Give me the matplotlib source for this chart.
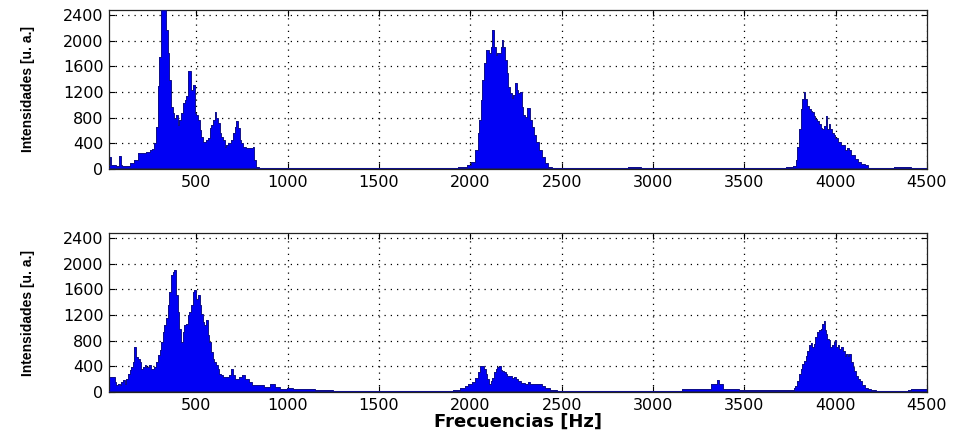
import matplotlib
matplotlib.use("Agg")
import matplotlib.pyplot as plt

# ---------------- data ----------------
top_freq = [20, 30, 37, 50, 70, 82, 90, 100, 120, 150, 170, 192, 210, 238, 250, 265, 275, 284, 293, 302,
            311, 320, 330, 339, 348, 357, 366, 376, 385, 394, 403, 412, 421, 431, 440, 449, 458, 467, 473, 486,
            495, 504, 513, 522, 531, 541, 550, 559, 568, 577, 586, 595, 605, 614, 623, 632, 641, 650, 660, 669,
            678, 687, 696, 705, 715, 724, 733, 742, 751, 760, 779, 806, 815, 820, 834, 852, 900, 1000, 1500, 1900,
            1960, 2000, 2005, 2016, 2035, 2044, 2053, 2062, 2071, 2080, 2089, 2098, 2107, 2116, 2126, 2135, 2144, 2153, 2162, 2171,
            2177, 2186, 2195, 2204, 2213, 2222, 2231, 2240, 2248, 2259, 2268, 2277, 2286, 2295, 2304, 2313, 2322, 2332, 2341, 2353,
            2366, 2381, 2399, 2417, 2435, 2460, 2850, 2880, 2920, 2950, 2980, 3700, 3757, 3776, 3785, 3794, 3803, 3812, 3821, 3830,
            3839, 3849, 3858, 3867, 3876, 3885, 3894, 3903, 3912, 3922, 3931, 3940, 3949, 3958, 3967, 3976, 3985, 3994, 4004, 4022,
            4040, 4058, 4067, 4077, 4095, 4113, 4131, 4149, 4168, 4186, 4200, 4310, 4330, 4360, 4400, 4420, 4500]
top_vals = [60, 190, 60, 60, 50, 200, 60, 40, 50, 90, 140, 245, 250, 260, 300, 310, 400, 660, 1285, 1750,
            2480, 2480, 2480, 2170, 1800, 1390, 970, 870, 790, 840, 690, 760, 870, 1020, 1080, 1130, 1520, 1520, 1230, 1310,
            870, 840, 760, 610, 500, 425, 425, 450, 480, 635, 690, 760, 895, 790, 710, 555, 500, 450, 350, 375,
            400, 400, 450, 555, 660, 740, 635, 450, 400, 350, 320, 320, 350, 140, 35, 20, 15, 8, 5, 15,
            35, 60, 115, 115, 300, 555, 765, 1075, 1385, 1645, 1850, 1850, 1800, 1905, 2165, 1905, 1775, 1800, 1800, 1905,
            2010, 1905, 1700, 1490, 1280, 1180, 1100, 1150, 1335, 1230, 1180, 1205, 970, 840, 815, 945, 945, 765, 660, 530,
            425, 295, 190, 90, 35, 10, 5, 25, 30, 20, 5, 5, 25, 50, 135, 345, 615, 935, 1095, 1200,
            1095, 985, 935, 905, 880, 825, 775, 745, 695, 640, 615, 665, 825, 615, 695, 615, 560, 535, 480, 425,
            375, 295, 320, 295, 215, 160, 105, 80, 55, 15, 5, 5, 30, 35, 25, 5, 5]

bot_freq = [30, 39, 48, 57, 66, 75, 84, 93, 102, 112, 121, 130, 139, 148, 157, 166, 175, 184, 194, 203,
            212, 221, 230, 239, 248, 257, 266, 276, 285, 294, 303, 312, 321, 330, 339, 348, 358, 367, 376, 385,
            394, 403, 412, 421, 430, 440, 449, 458, 467, 476, 485, 494, 503, 513, 522, 531, 540, 549, 558, 567,
            576, 585, 594, 604, 613, 622, 631, 640, 649, 667, 686, 695, 704, 722, 741, 759, 777, 795, 813, 850,
            886, 923, 941, 977, 1014, 1050, 1100, 1200, 1300, 1500, 1700, 1850, 1889, 1925, 1962, 1980, 1998, 2017, 2035, 2049,
            2062, 2071, 2080, 2089, 2098, 2107, 2116, 2126, 2135, 2144, 2153, 2162, 2171, 2180, 2189, 2198, 2207, 2226, 2235, 2244,
            2253, 2271, 2289, 2308, 2320, 2335, 2353, 2381, 2399, 2417, 2454, 2490, 2530, 2900, 3100, 3218, 3300, 3340, 3356, 3370,
            3400, 3458, 3480, 3766, 3775, 3785, 3794, 3803, 3812, 3821, 3830, 3840, 3849, 3858, 3867, 3876, 3885, 3894, 3903, 3913,
            3922, 3931, 3936, 3944, 3949, 3958, 3967, 3976, 3986, 3995, 4000, 4007, 4016, 4025, 4034, 4044, 4053, 4062, 4071, 4080,
            4089, 4098, 4107, 4117, 4126, 4140, 4153, 4168, 4186, 4204, 4240, 4390, 4404, 4422, 4500]
bot_vals = [235, 235, 235, 155, 105, 130, 105, 155, 180, 130, 210, 285, 340, 390, 470, 700, 545, 520, 470, 365,
            390, 415, 390, 390, 415, 365, 365, 390, 470, 570, 650, 780, 935, 1040, 1145, 1350, 1560, 1820, 1870, 1895,
            1505, 1245, 985, 780, 935, 1040, 1065, 1195, 1245, 1350, 1560, 1585, 1455, 1505, 1350, 1220, 1090, 1040, 1115, 880,
            780, 625, 520, 470, 415, 365, 285, 260, 235, 235, 260, 365, 260, 210, 235, 260, 210, 155, 105, 105,
            80, 130, 80, 50, 60, 50, 45, 25, 15, 10, 12, 15, 20, 38, 65, 90, 130, 160, 225, 310,
            400, 400, 360, 280, 200, 130, 175, 225, 310, 360, 390, 400, 345, 325, 310, 280, 255, 255, 225, 240,
            200, 175, 145, 130, 160, 130, 120, 130, 90, 65, 38, 20, 5, 10, 15, 40, 50, 120, 185, 120,
            50, 40, 25, 25, 58, 95, 175, 280, 355, 435, 490, 565, 645, 725, 760, 700, 750, 855, 935, 970,
            985, 1065, 1100, 960, 910, 830, 805, 700, 725, 775, 805, 700, 725, 670, 700, 645, 565, 595, 565, 595,
            460, 385, 330, 250, 200, 175, 110, 70, 40, 25, 8, 8, 25, 40, 40]

x_ticks = [500, 1000, 1500, 2000, 2500, 3000, 3500, 4000, 4500]
y_ticks = [0, 400, 800, 1200, 1600, 2000, 2400]
x_label = "Frecuencias [Hz]"
y_label = "Intensidades [u. a.]"

# ---------------- figure ----------------
W, H = 954, 432
fig = plt.figure(figsize=(W / 100, H / 100), dpi=100)
fig.patch.set_facecolor("white")

left = 109 / W
ax_w_px = 927 - 109
width = ax_w_px / W
ax_h = 159 / H
ax_top = fig.add_axes([left, 1 - 169 / H, width, ax_h])
ax_bot = fig.add_axes([left, 1 - 392 / H, width, ax_h])

fill_c = "#0000f4"
edge_c = "#10108a"

for ax, fr, vv in ((ax_top, top_freq, top_vals), (ax_bot, bot_freq, bot_vals)):
    ax.fill_between(fr, 0, vv, step="mid", color=fill_c, lw=0, zorder=2)
    ax.step(fr, vv, where="mid", color=edge_c, lw=0.7, zorder=3)
    ax.axhline(0, color=edge_c, lw=2.2, zorder=3)
    ax.set_xlim(22, 4500)
    ax.set_ylim(0, 2475)
    ax.set_xticks(x_ticks)
    ax.set_yticks(y_ticks)
    ax.grid(True, color="black", linestyle=(0, (1, 4)), linewidth=0.9, zorder=1)
    ax.set_axisbelow(True)
    ax.tick_params(direction="in", length=4, width=0.8, top=True, right=True,
                   labelsize=11.5, colors="black", pad=4)
    for sp in ax.spines.values():
        sp.set_linewidth(0.9)
        sp.set_color("#222222")
    ax.set_ylabel(y_label, fontsize=10, fontweight="bold",
                  family=["Liberation Sans", "DejaVu Sans"])
    ax.yaxis.set_label_coords((35 - 109) / ax_w_px, 0.5)

ax_bot.set_xlabel(x_label, fontsize=13, fontweight="bold")
ax_bot.xaxis.set_label_coords(0.5, (392 - 413) / 159)

fig.savefig("out.png", dpi=100, facecolor="white")
